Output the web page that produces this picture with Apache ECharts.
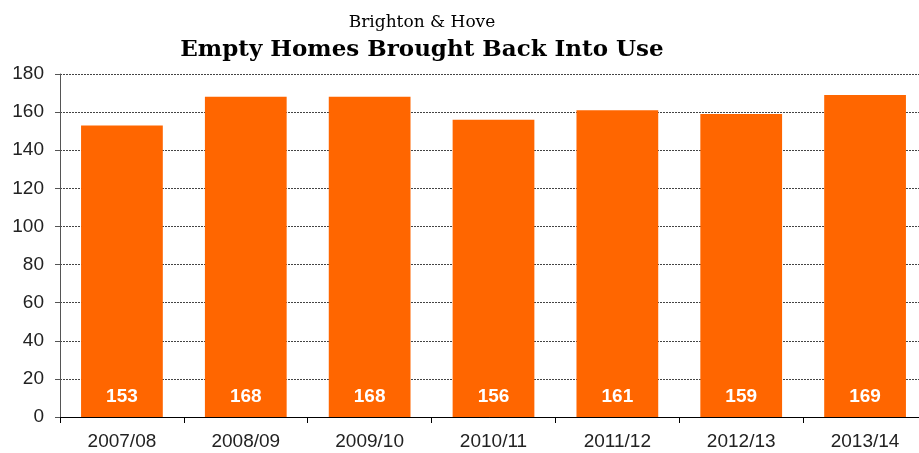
<!DOCTYPE html>
<html>
<head>
<meta charset="utf-8">
<script src="https://cdn.jsdelivr.net/npm/echarts@6/dist/echarts.min.js"></script>
<style>
  html, body { margin: 0; padding: 0; background: #fff; }
  #chart { width: 919px; height: 453px; }
</style>
</head>
<body>
<div id="chart"></div>
<script>
const years = ['2007/08', '2008/09', '2009/10', '2010/11', '2011/12', '2012/13', '2013/14'];
const homes = [153, 168, 168, 156, 161, 159, 169];

const chart = echarts.init(document.getElementById('chart'));
chart.setOption({
  animation: false,
  title: [{
    text: 'Brighton & Hove',
    left: 417, top: 9, textAlign: 'center',
    textStyle: { fontFamily: 'DejaVu Serif', fontWeight: 'normal', fontSize: 17, color: '#000' }
  }, {
    text: 'Empty Homes Brought Back Into Use',
    left: 417, top: 34, textAlign: 'center',
    textStyle: { fontFamily: 'DejaVu Serif', fontWeight: 'bold', fontSize: 23, color: '#000' }
  }],
  grid: { left: 60, width: 867, top: 74, bottom: 36, containLabel: false, outerBoundsMode: 'none' },
  xAxis: {
    type: 'category',
    data: years,
    axisLine: { lineStyle: { color: '#000', width: 1 } },
    axisTick: { show: true, length: 6, lineStyle: { color: '#000' } },
    axisLabel: { fontFamily: 'Liberation Sans', fontSize: 19, color: '#222', margin: 15 }
  },
  yAxis: {
    type: 'value',
    min: 0, max: 180, interval: 20,
    axisLine: { show: true, lineStyle: { color: '#555', width: 1 } },
    axisTick: { show: true, length: 5, lineStyle: { color: '#555' } },
    axisLabel: { fontFamily: 'Liberation Sans', fontSize: 19, color: '#222', margin: 16 },
    splitLine: { lineStyle: { color: '#444', type: [2, 1], width: 1 } }
  },
  series: [{
    type: 'bar',
    data: homes,
    barWidth: '66%',
    itemStyle: { color: '#FF6600' },
    label: {
      show: true,
      position: 'insideBottom',
      distance: 11,
      color: '#fff',
      fontFamily: 'Liberation Sans',
      fontWeight: 'bold',
      fontSize: 19
    }
  }]
});
</script>
</body>
</html>
